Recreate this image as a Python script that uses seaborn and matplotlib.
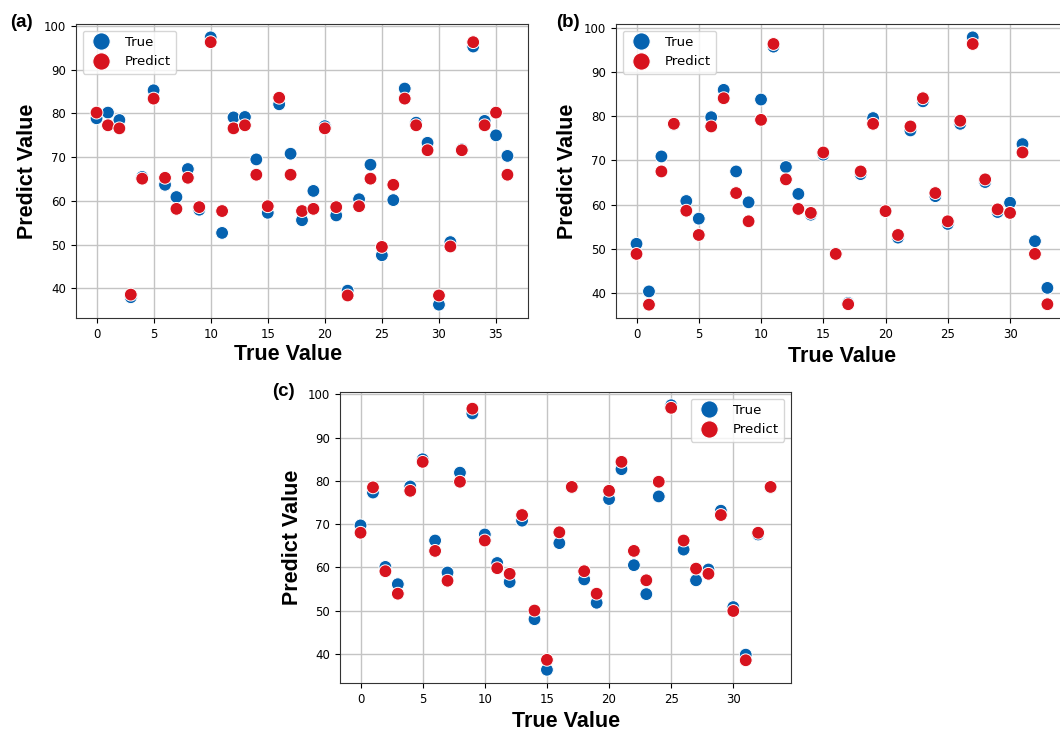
import pandas as pd
import numpy as np
import seaborn as sns
import matplotlib.pyplot as plt

# значения
a_true = [78.9, 80.2, 78.5, 38.0, 65.5, 85.3, 63.7, 60.9, 67.3, 58.0, 97.4, 52.7, 79.1, 79.2,
          69.5, 57.3, 82.1, 70.8, 55.6, 62.3, 77.1, 56.7, 39.5, 60.4, 68.3, 47.6, 60.2, 85.7,
          77.9, 73.3, 36.3, 50.6, 71.8, 95.3, 78.3, 75.0, 70.3]
a_pred = [80.2, 77.3, 76.6, 38.6, 65.1, 83.4, 65.3, 58.2, 65.3, 58.6, 96.3, 57.7, 76.6, 77.3,
          66.0, 58.8, 83.6, 66.0, 57.7, 58.2, 76.6, 58.6, 38.4, 58.8, 65.1, 49.5, 63.7, 83.4,
          77.3, 71.6, 38.4, 49.6, 71.6, 96.3, 77.3, 80.2, 66.0]

b_true = [51.1, 40.3, 70.9, 78.2, 60.8, 56.8, 79.8, 86.0, 67.5, 60.5, 83.8, 95.8, 68.5, 62.4,
          57.7, 71.3, 48.9, 37.7, 66.9, 79.6, 58.5, 52.5, 76.8, 83.4, 61.9, 55.6, 78.3, 97.9,
          65.1, 58.3, 60.4, 73.7, 51.7, 41.1]
b_pred = [48.8, 37.3, 67.5, 78.3, 58.6, 53.1, 77.7, 84.1, 62.6, 56.2, 79.2, 96.4, 65.7, 59.0,
          58.1, 71.8, 48.8, 37.4, 67.5, 78.3, 58.5, 53.1, 77.7, 84.1, 62.6, 56.2, 79.0, 96.4,
          65.7, 58.9, 58.1, 71.8, 48.8, 37.4]

c_true = [69.7, 77.3, 60.1, 56.1, 78.7, 85.0, 66.2, 58.8, 81.9, 95.6, 67.6, 61.0, 56.6, 70.8,
          48.0, 36.3, 65.6, 78.5, 57.2, 51.8, 75.8, 82.7, 60.5, 53.8, 76.4, 97.5, 64.1, 57.0,
          59.5, 73.1, 50.8, 39.8, 67.6, 78.5]
c_pred = [68.0, 78.5, 59.1, 53.9, 77.7, 84.4, 63.8, 56.9, 79.8, 96.7, 66.2, 59.8, 58.5, 72.1,
          50.0, 38.6, 68.1, 78.6, 59.1, 53.9, 77.7, 84.4, 63.8, 57.0, 79.8, 96.9, 66.2, 59.7,
          58.5, 72.1, 49.9, 38.5, 68.0, 78.6]

series_names = ['True', 'Predict']
palette = {'True': '#0562b0', 'Predict': '#d7131e'}
label_font = dict(family='Liberation Sans', fontweight='bold', fontsize=15.5)


def make_frame(true_vals, pred_vals):
    n = len(true_vals)
    idx = np.arange(n)
    return pd.DataFrame({
        'x': np.concatenate([idx, idx]),
        'y': list(true_vals) + list(pred_vals),
        'series': [series_names[0]] * n + [series_names[1]] * n,
    })


def draw_panel(ax, true_vals, pred_vals, legend_loc):
    df = make_frame(true_vals, pred_vals)
    sns.scatterplot(data=df, x='x', y='y', hue='series', palette=palette,
                    s=85, edgecolor='white', linewidth=0.7, ax=ax)
    ax.set_axisbelow(True)
    ax.grid(True, color='#c4c4c4', linewidth=1.0)
    ax.set_xlabel('True Value', **label_font)
    ax.set_ylabel('Predict Value', **label_font)
    ax.tick_params(labelsize=8.5)
    for sp in ax.spines.values():
        sp.set_color('#333333')
    sns.move_legend(ax, legend_loc, title=None, fontsize=9.5, markerscale=1.35)


fig = plt.figure(figsize=(10.6, 7.36), dpi=100)

ax_a = fig.add_axes([0.0717, 0.5679, 0.4264, 0.3995])
ax_b = fig.add_axes([0.5811, 0.5679, 0.4264, 0.3995])
ax_c = fig.add_axes([0.3208, 0.0720, 0.4255, 0.3954])

draw_panel(ax_a, a_true, a_pred, 'upper left')
draw_panel(ax_b, b_true, b_pred, 'upper left')
draw_panel(ax_c, c_true, c_pred, 'upper right')
ax_a.xaxis.set_label_coords(0.47, -0.09)

# подписи панелей
for x, y, txt in [(0.0095, 0.970, '(a)'), (0.525, 0.970, '(b)'), (0.257, 0.468, '(c)')]:
    fig.text(x, y, txt, family='Liberation Sans', fontweight='bold', fontsize=13.5, va='center')

fig.savefig('out.png', dpi=100)
